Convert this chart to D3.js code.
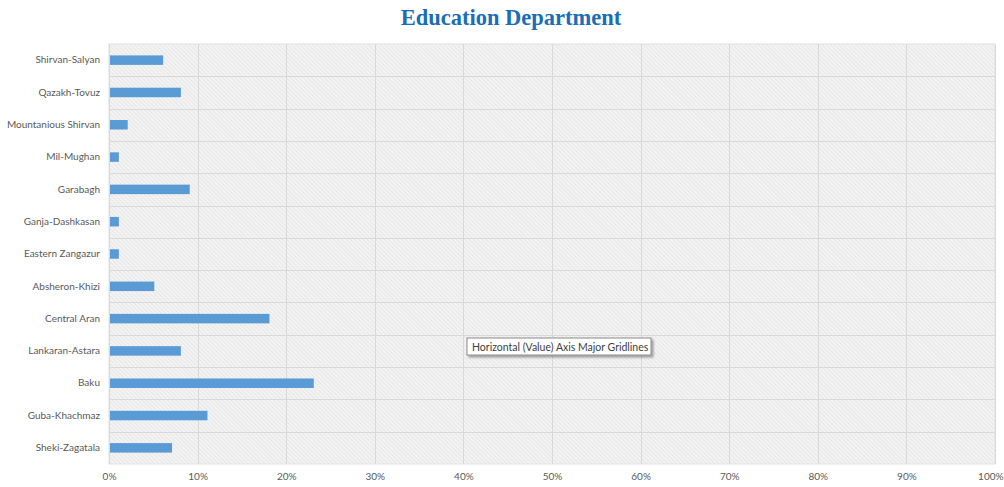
<!DOCTYPE html>
<html><head><meta charset="utf-8">
<script src="https://cdn.jsdelivr.net/npm/d3@7"></script>
<style>body{margin:0;background:#fff}svg{display:block}</style>
</head><body>
<script>
const categories = ["Shirvan-Salyan","Qazakh-Tovuz","Mountanious Shirvan","Mil-Mughan","Garabagh","Ganja-Dashkasan","Eastern Zangazur","Absheron-Khizi","Central Aran","Lankaran-Astara","Baku","Guba-Khachmaz","Sheki-Zagatala"];
const values = [0.06,0.08,0.02,0.01,0.09,0.01,0.01,0.05,0.18,0.08,0.23,0.11,0.07];
const xTicks = [0,0.1,0.2,0.3,0.4,0.5,0.6,0.7,0.8,0.9,1.0];
const titleText = "Education Department";
const tooltipText = "Horizontal (Value) Axis Major Gridlines";

const W = 1004, H = 487;
const m = {top:44, right:9, bottom:23, left:109};
const svg = d3.select("body").append("svg").attr("width",W).attr("height",H);
const defs = svg.append("defs");
const pat = defs.append("pattern").attr("id","hatch").attr("patternUnits","userSpaceOnUse")
  .attr("width",3).attr("height",3).attr("patternTransform","rotate(-45)");
pat.append("rect").attr("width",3).attr("height",3).attr("fill","#f3f3f3");
pat.append("line").attr("x1",0).attr("y1",0).attr("x2",0).attr("y2",3).attr("stroke","#dcdcdc").attr("stroke-width",1);
const f = defs.append("filter").attr("id","sh").attr("x","-10%").attr("y","-20%").attr("width","130%").attr("height","160%");
f.append("feDropShadow").attr("dx",2).attr("dy",2).attr("stdDeviation",1).attr("flood-color","#000").attr("flood-opacity",0.35);

const x = d3.scaleLinear().domain([0,1]).range([m.left, W-m.right]);
const y = d3.scaleBand().domain(categories).range([m.top, H-m.bottom]).paddingInner(0).paddingOuter(0);

svg.append("rect").attr("x",m.left).attr("y",m.top).attr("width",x(1)-x(0)).attr("height",H-m.bottom-m.top)
  .attr("fill","url(#hatch)").attr("stroke","#e2e2e2");

svg.append("g").selectAll("line").data(categories.slice(1)).join("line")
  .attr("x1",m.left).attr("x2",x(1)).attr("y1",d=>Math.round(y(d))+0.5).attr("y2",d=>Math.round(y(d))+0.5)
  .attr("stroke","#d9d9d9");
svg.append("g").selectAll("line").data(xTicks).join("line")
  .attr("x1",d=>Math.round(x(d))+0.5).attr("x2",d=>Math.round(x(d))+0.5).attr("y1",m.top).attr("y2",H-m.bottom)
  .attr("stroke","#d9d9d9");

const bh = 9.5;
svg.append("g").selectAll("rect").data(values).join("rect")
  .attr("x",x(0)+1).attr("y",(d,i)=>y(categories[i])+y.bandwidth()/2-bh/2)
  .attr("width",d=>x(d)-x(0)).attr("height",bh).attr("fill","#5b9bd5");

const ya = svg.append("g").attr("transform",`translate(${m.left},0)`).call(d3.axisLeft(y).tickSize(0).tickPadding(9));
ya.select(".domain").remove();
ya.selectAll("text").attr("font-family","Lato, 'Open Sans', sans-serif").attr("font-size",10).attr("fill","#595959");

const xa = svg.append("g").attr("transform",`translate(0,${H-m.bottom})`)
  .call(d3.axisBottom(x).tickValues(xTicks).tickFormat(d3.format(".0%")).tickSize(0).tickPadding(9));
xa.select(".domain").remove();
xa.selectAll("text").attr("font-family","Lato, 'Open Sans', sans-serif").attr("font-size",10).attr("fill","#595959");
xa.selectAll("text").filter(d=>d===1).attr("text-anchor","end").attr("dx",W-1-x(1));

svg.append("text").attr("x",511).attr("y",25).attr("text-anchor","middle")
  .attr("font-family","'Liberation Serif', 'Times New Roman', serif").attr("font-weight","bold")
  .attr("font-size",22.5).attr("fill","#1a6db6").text(titleText);

const tg = svg.append("g");
tg.append("rect").attr("x",467).attr("y",338).attr("width",184).attr("height",17)
  .attr("fill","#fff").attr("stroke","#8a8a8a").attr("filter","url(#sh)");
tg.append("text").attr("x",472).attr("y",350.5).attr("font-family","Lato, 'Open Sans', sans-serif")
  .attr("font-size",10.5).attr("fill","#404040").text(tooltipText);
</script>
</body></html>
